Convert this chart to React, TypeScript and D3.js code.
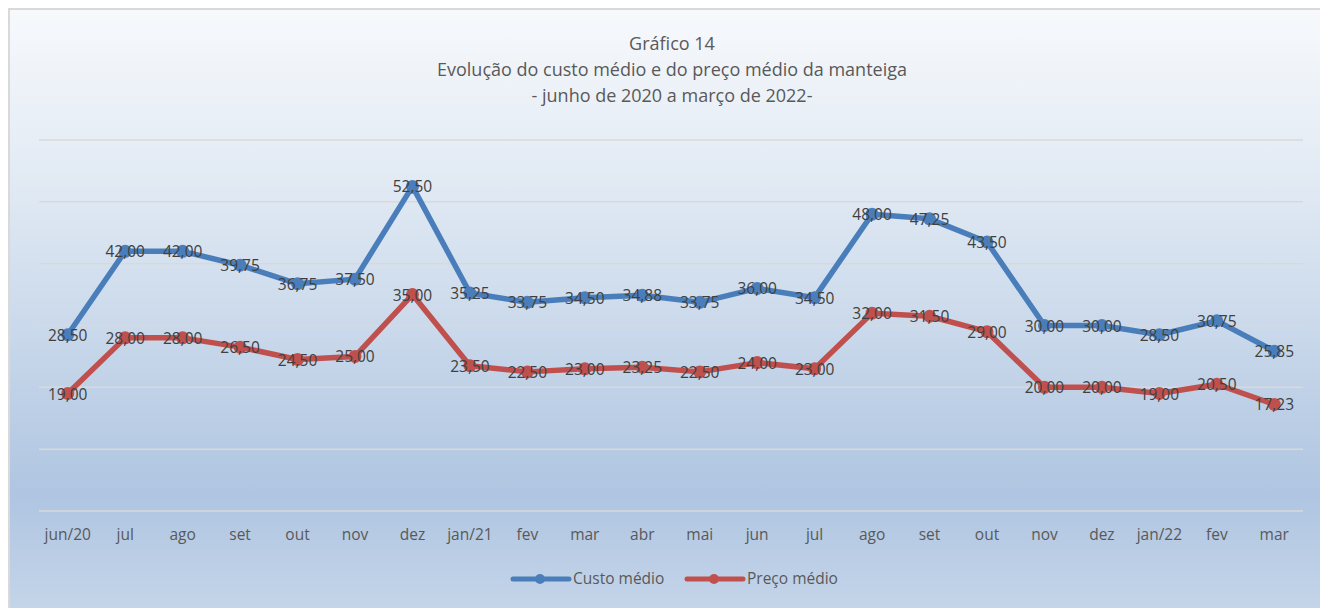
import React from 'react';
import * as d3 from 'd3';

// months (x categories)
const months = ['jun/20', 'jul', 'ago', 'set', 'out', 'nov', 'dez', 'jan/21', 'fev', 'mar', 'abr', 'mai', 'jun', 'jul', 'ago', 'set', 'out', 'nov', 'dez', 'jan/22', 'fev', 'mar'];
const custo = [28.5, 42.0, 42.0, 39.75, 36.75, 37.5, 52.5, 35.25, 33.75, 34.5, 34.88, 33.75, 36.0, 34.5, 48.0, 47.25, 43.5, 30.0, 30.0, 28.5, 30.75, 25.85];
const preco = [19.0, 28.0, 28.0, 26.5, 24.5, 25.0, 35.0, 23.5, 22.5, 23.0, 23.25, 22.5, 24.0, 23.0, 32.0, 31.5, 29.0, 20.0, 20.0, 19.0, 20.5, 17.23];
const yTicks = [0, 10, 20, 30, 40, 50, 60];
const titleLines = ['Gráfico 14', 'Evolução do custo médio e do preço médio da manteiga', '- junho de 2020 a março de 2022-'];

const series = [
  { name: 'Custo médio', values: custo, color: '#4a7ebb' },
  { name: 'Preço médio', values: preco, color: '#c0504d' },
];

const W = 1320;
const H = 608;
const FONT = '"Open Sans", "Noto Sans", sans-serif';

export default function App() {
  const x = d3.scaleBand<number>()
    .domain(months.map((_, i) => i))
    .range([39, 1303]);
  const y = d3.scaleLinear().domain([0, 60]).range([511, 140]);
  const cx = (i: number) => (x(i) as number) + x.bandwidth() / 2;

  const line = d3.line<number>()
    .x((_, i) => cx(i))
    .y(d => y(d));

  const fmt = (v: number) => v.toFixed(2).replace('.', ',');

  return (
    <svg width={W} height={H} style={{ position: 'absolute', left: 0, top: 0 }} fontFamily={FONT}>
      <defs>
        <linearGradient id="bg" x1="0" y1="0" x2="0" y2="1">
          <stop offset="0" stopColor="#f7f9fc" />
          <stop offset="0.3" stopColor="#e0e9f3" />
          <stop offset="0.8" stopColor="#afc5e1" />
          <stop offset="1" stopColor="#c6d6ea" />
        </linearGradient>
      </defs>
      <rect x={0} y={0} width={W} height={H} fill="#ffffff" />
      <rect x={9} y={9} width={W} height={H} fill="url(#bg)" stroke="#d9d9d9" strokeWidth={2} />

      {titleLines.map((t, i) => (
        <text key={i} x={672} y={50 + i * 26} textAnchor="middle" fontSize={18} fill="#595959">{t}</text>
      ))}

      {yTicks.map(t => (
        <line key={t} x1={39} x2={1303} y1={y(t)} y2={y(t)} stroke="#d9d9d9" strokeWidth={1.5} />
      ))}

      {months.map((m, i) => (
        <text key={i} x={cx(i)} y={540} textAnchor="middle" fontSize={15.5} fill="#595959">{m}</text>
      ))}

      {series.map(s => (
        <g key={s.name}>
          <path d={line(s.values) || ''} fill="none" stroke={s.color} strokeWidth={5.5} strokeLinejoin="round" />
          {s.values.map((v, i) => (
            <circle key={i} cx={cx(i)} cy={y(v)} r={6.5} fill={s.color} />
          ))}
        </g>
      ))}

      {series.map(s => (
        <g key={s.name + '-lbl'}>
          {s.values.map((v, i) => (
            <text key={i} x={cx(i)} y={y(v) + 6} textAnchor="middle" fontSize={15.5} fill="#404040">{fmt(v)}</text>
          ))}
        </g>
      ))}

      {series.map((s, k) => {
        const lx = 513 + k * 174;
        return (
          <g key={s.name + '-leg'}>
            <line x1={lx} x2={lx + 56} y1={579} y2={579} stroke={s.color} strokeWidth={5} strokeLinecap="round" />
            <circle cx={lx + 27} cy={579} r={5} fill={s.color} />
            <text x={lx + 60} y={584} fontSize={15.5} fill="#595959">{s.name}</text>
          </g>
        );
      })}
    </svg>
  );
}
